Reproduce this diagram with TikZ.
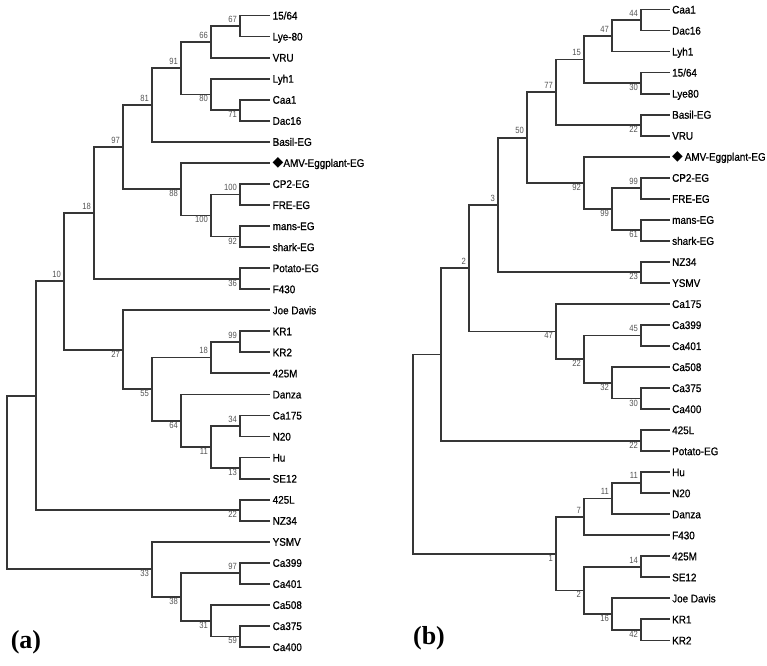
\documentclass[tikz,border=0pt]{standalone}
\usepackage{fontspec}
\setmainfont{Liberation Serif}
\setsansfont{Liberation Sans}
\newfontfamily\leaffont[FakeStretch=0.9, FakeBold=0.8]{Liberation Sans}
\newfontfamily\bootfont[FakeStretch=0.85]{Liberation Sans}
\newfontfamily\symfont{DejaVu Sans}

\begin{document}
\begin{tikzpicture}[x=1pt, y=-1pt, font=\sffamily,
  branch/.style={draw=ink, line width=1.8pt},
  leaf/.style={anchor=west, inner xsep=2.5pt, inner ysep=0pt, text height=8pt, text depth=0pt,
    font=\leaffont\fontsize{11}{12}\selectfont, text=black},
  bsup/.style={anchor=south east, inner sep=0pt, xshift=-3pt, yshift=3.5pt,
    font=\bootfont\fontsize{9}{10}\selectfont, text=boot},
  bsdown/.style={bsup, anchor=north east, yshift=-4.5pt},
  panel/.style={font=\rmfamily\bfseries\fontsize{26}{28}\selectfont}]
  \definecolor{ink}{HTML}{363636}
  \definecolor{boot}{HTML}{555555}
  \fill[white] (0,0) rectangle (767,665);
  \useasboundingbox (0,0) rectangle (767,665);

  % (a)
  \foreach \t [count=\i from 0] in {15/64, Lye-80, VRU, Lyh1, Caa1, Dac16, Basil-EG,
      {{\symfont\fontsize{14}{14}\selectfont ◆}AMV-Eggplant-EG}, CP2-EG, FRE-EG, mans-EG, shark-EG, Potato-EG, F430,
      Joe Davis, KR1, KR2, 425M, Danza, Ca175, N20, Hu, SE12, 425L, NZ34, YSMV,
      Ca399, Ca401, Ca508, Ca375, Ca400}
    \node[leaf] (a\i) at (270, 15.5+21.05*\i) {\t};
  \coordinate (aroot) at (7,482.55);
  \coordinate (aA) at (36,395.71);
  \coordinate (aB) at (64,281.25);
  \coordinate (aC) at (94,212.84);
  \coordinate (aD) at (123,147.06);
  \coordinate (aE) at (152,104.96);
  \coordinate (aF) at (181,68.13);
  \coordinate (aH) at (211,41.81);
  \coordinate (aG) at (240,26.03);
  \coordinate (aI) at (211,94.44);
  \coordinate (aJ) at (240,110.23);
  \coordinate (aK) at (181,189.16);
  \coordinate (aL) at (211,215.48);
  \coordinate (aM) at (240,194.43);
  \coordinate (aN) at (240,236.53);
  \coordinate (aO) at (240,278.63);
  \coordinate (aP) at (123,349.67);
  \coordinate (aQ) at (152,389.14);
  \coordinate (aR) at (211,357.56);
  \coordinate (aT) at (240,341.78);
  \coordinate (aS) at (181,420.71);
  \coordinate (aU) at (211,447.03);
  \coordinate (aV) at (240,425.98);
  \coordinate (aW) at (240,468.08);
  \coordinate (aX) at (240,510.18);
  \coordinate (aY) at (152,569.38);
  \coordinate (aZ) at (181,597.01);
  \coordinate (aAA) at (240,573.33);
  \coordinate (aAB) at (211,620.69);
  \coordinate (aAC) at (240,636.48);
  \foreach \p/\c in {aroot/aA, aroot/aY, aA/aB, aA/aX, aB/aC, aB/aP, aC/aD, aC/aO,
      aD/aE, aD/aK, aE/aF, aE/a6.west, aF/aH, aF/aI, aH/aG, aH/a2.west, aG/a0.west, aG/a1.west,
      aI/a3.west, aI/aJ, aJ/a4.west, aJ/a5.west, aK/a7.west, aK/aL, aL/aM, aL/aN,
      aM/a8.west, aM/a9.west, aN/a10.west, aN/a11.west, aO/a12.west, aO/a13.west,
      aP/a14.west, aP/aQ, aQ/aR, aQ/aS, aR/aT, aR/a17.west, aT/a15.west, aT/a16.west,
      aS/a18.west, aS/aU, aU/aV, aU/aW, aV/a19.west, aV/a20.west, aW/a21.west, aW/a22.west,
      aX/a23.west, aX/a24.west, aY/a25.west, aY/aZ, aZ/aAA, aZ/aAB,
      aAA/a26.west, aAA/a27.west, aAB/a28.west, aAB/aAC, aAC/a29.west, aAC/a30.west}
    \draw[branch] (\p) |- (\c);
  \foreach \c/\v in {aB/10, aC/18, aD/97, aE/81, aF/91, aH/66, aG/67, aM/100, aR/18,
      aT/99, aV/34, aAA/97}
    \node[bsup] (\c-bs) at (\c) {\v};
  \foreach \c/\v in {aI/80, aJ/71, aK/88, aL/100, aN/92, aO/36, aP/27, aQ/55, aS/64,
      aU/11, aW/13, aX/22, aY/33, aZ/38, aAB/31, aAC/59}
    \node[bsdown] (\c-bs) at (\c) {\v};
  \node[panel] (pa) at (26,642) {(a)};

  % (b)
  \foreach \t [count=\i from 0] in {Caa1, Dac16, Lyh1, 15/64, Lye80, Basil-EG, VRU,
      {{\symfont\fontsize{14}{14}\selectfont ◆}\,AMV-Eggplant-EG}, CP2-EG, FRE-EG, mans-EG, shark-EG, NZ34, YSMV,
      Ca175, Ca399, Ca401, Ca508, Ca375, Ca400, 425L, Potato-EG, Hu, N20, Danza, F430,
      425M, SE12, Joe Davis, KR1, KR2}
    \node[leaf] (b\i) at (669.5, 9.5+21.03*\i) {\t};
  \coordinate (broot) at (413,454.06);
  \coordinate (bP1) at (441,354.45);
  \coordinate (bQ1) at (469,268.28);
  \coordinate (bR1) at (498,205.02);
  \coordinate (bS1) at (527,137.66);
  \coordinate (bT1) at (556,92.31);
  \coordinate (bU1) at (584,59.45);
  \coordinate (bV1) at (612,35.79);
  \coordinate (bX1) at (641,20.02);
  \coordinate (bW1) at (641,83.11);
  \coordinate (bY1) at (641,125.17);
  \coordinate (bZ1) at (584,183.0);
  \coordinate (bA2) at (612,209.29);
  \coordinate (bB2) at (641,188.26);
  \coordinate (bC2) at (641,230.32);
  \coordinate (bD2) at (641,272.38);
  \coordinate (bE2) at (556,331.53);
  \coordinate (bF2) at (584,359.13);
  \coordinate (bG2) at (641,335.47);
  \coordinate (bH2) at (612,382.79);
  \coordinate (bI2) at (641,398.56);
  \coordinate (bJ2) at (641,440.62);
  \coordinate (bK2) at (556,553.66);
  \coordinate (bL2) at (584,516.85);
  \coordinate (bN2) at (612,498.45);
  \coordinate (bO2) at (641,482.68);
  \coordinate (bM2) at (584,590.46);
  \coordinate (bP2) at (641,566.8);
  \coordinate (bQ2) at (612,614.12);
  \coordinate (bR2) at (641,629.89);
  \foreach \p/\c in {broot/bP1, broot/bK2, bP1/bQ1, bP1/bJ2, bQ1/bR1, bQ1/bE2,
      bR1/bS1, bR1/bD2, bS1/bT1, bS1/bZ1, bT1/bU1, bT1/bY1, bU1/bV1, bU1/bW1,
      bV1/bX1, bV1/b2.west, bX1/b0.west, bX1/b1.west, bW1/b3.west, bW1/b4.west,
      bY1/b5.west, bY1/b6.west, bZ1/b7.west, bZ1/bA2, bA2/bB2, bA2/bC2,
      bB2/b8.west, bB2/b9.west, bC2/b10.west, bC2/b11.west, bD2/b12.west, bD2/b13.west,
      bE2/b14.west, bE2/bF2, bF2/bG2, bF2/bH2, bG2/b15.west, bG2/b16.west,
      bH2/b17.west, bH2/bI2, bI2/b18.west, bI2/b19.west, bJ2/b20.west, bJ2/b21.west,
      bK2/bL2, bK2/bM2, bL2/bN2, bL2/b25.west, bN2/bO2, bN2/b24.west,
      bO2/b22.west, bO2/b23.west, bM2/bP2, bM2/bQ2, bP2/b26.west, bP2/b27.west,
      bQ2/b28.west, bQ2/bR2, bR2/b29.west, bR2/b30.west}
    \draw[branch] (\p) |- (\c);
  \foreach \c/\v in {bX1/44, bV1/47, bU1/15, bT1/77, bS1/50, bR1/3, bQ1/2, bB2/99,
      bG2/45, bO2/11, bN2/11, bL2/7, bP2/14}
    \node[bsup] (\c-bs) at (\c) {\v};
  \foreach \c/\v in {bW1/30, bY1/22, bC2/61, bA2/99, bZ1/92, bD2/23, bE2/47, bF2/22,
      bH2/32, bI2/30, bJ2/22, bK2/1, bM2/2, bQ2/16, bR2/42}
    \node[bsdown] (\c-bs) at (\c) {\v};
  \node[panel] (pb) at (429,638) {(b)};
\end{tikzpicture}
\end{document}
